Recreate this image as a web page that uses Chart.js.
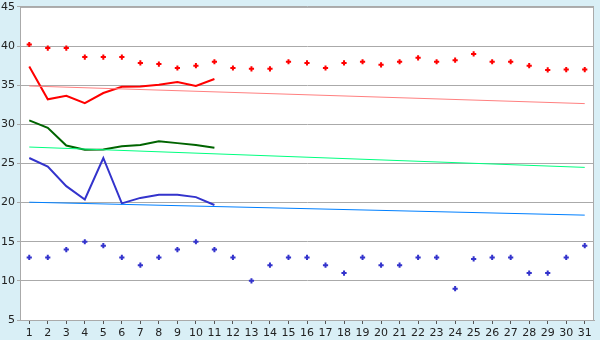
<!DOCTYPE html>
<html lang="">
<head>
    <meta charset="utf-8">
    <title></title>
<script src="https://cdn.jsdelivr.net/npm/chart.js@4.4.0/dist/chart.umd.min.js"></script>
<style>
  body { margin: 0; background: #d9eff6; }
</style>
</head>

<body>
<canvas id="mycanvas" width="600" height="340"></canvas>

<script>
var days = [];
for (var d = 1; d <= 31; d++) days.push(String(d));

// scattered daily points
var highDots = [40.2, 39.75, 39.75, 38.6, 38.6, 38.6, 37.85, 37.7, 37.2, 37.5,
                38.0, 37.2, 37.1, 37.1, 38.0, 37.85, 37.2, 37.85, 38.0, 37.6,
                38.0, 38.5, 38.0, 38.2, 39.0, 38.0, 38.0, 37.5, 36.95, 37.0, 37.0];
var lowDots = [13, 13, 14, 15, 14.5, 13, 12, 13, 14, 15,
               14, 13, 10, 12, 13, 13, 12, 11, 13, 12,
               12, 13, 13, 9, 12.8, 13, 13, 11, 11, 13, 14.5];

// lines for the first 11 days
var redLine = [37.4, 33.2, 33.65, 32.7, 34.0, 34.8, 34.85, 35.05, 35.4, 34.9, 35.8];
var greenLine = [30.5, 29.55, 27.3, 26.75, 26.8, 27.2, 27.35, 27.85, 27.6, 27.35, 27.0];
var blueLine = [25.7, 24.6, 22.1, 20.4, 25.7, 19.9, 20.6, 21.0, 21.0, 20.7, 19.7];

// trend lines, values at day 1 and day 31
var redTrend = [34.9, 32.65];
var greenTrend = [27.1, 24.5];
var blueTrend = [20.05, 18.4];

var yTicks = [5, 10, 15, 20, 25, 30, 35, 40, 45];

function ends(v) {
  return [{x: '1', y: v[0]}, {x: '31', y: v[1]}];
}

var bgPlugin = {
  id: 'bg',
  beforeDraw: function(chart) {
    var c = chart.ctx, a = chart.chartArea;
    c.save();
    c.fillStyle = '#d9eff6';
    c.fillRect(0, 0, chart.width, chart.height);
    c.fillStyle = '#ffffff';
    c.fillRect(a.left, a.top, a.right - a.left, a.bottom - a.top);
    c.restore();
  },
  afterDatasetsDraw: function(chart) {
    var c = chart.ctx, a = chart.chartArea;
    c.save();
    c.strokeStyle = '#aaaaaa';
    c.lineWidth = 1;
    c.strokeRect(a.left + 0.5, a.top + 0.5, a.right - a.left - 1, a.bottom - a.top);
    c.restore();
  }
};

var ctx = document.getElementById('mycanvas');
Chart.defaults.font.family = 'DejaVu Sans';
Chart.defaults.font.size = 11;
Chart.defaults.color = '#222222';

new Chart(ctx, {
  type: 'line',
  data: {
    labels: days,
    datasets: [
      {data: ends(redTrend), borderColor: '#ff8080', borderWidth: 1, pointRadius: 0},
      {data: ends(greenTrend), borderColor: '#00ff80', borderWidth: 1, pointRadius: 0},
      {data: ends(blueTrend), borderColor: '#0080ff', borderWidth: 1, pointRadius: 0},
      {data: redLine, borderColor: '#ff0000', borderWidth: 2, pointRadius: 0},
      {data: greenLine, borderColor: '#006400', borderWidth: 2, pointRadius: 0},
      {data: blueLine, borderColor: '#3333cc', borderWidth: 2, pointRadius: 0},
      {data: highDots, showLine: false, pointStyle: 'cross', pointRadius: 2.6,
       pointBorderWidth: 2, pointBorderColor: '#ff0000', borderColor: '#ff0000'},
      {data: lowDots, showLine: false, pointStyle: 'cross', pointRadius: 2.6,
       pointBorderWidth: 2, pointBorderColor: '#3333cc', borderColor: '#3333cc'}
    ]
  },
  options: {
    responsive: false,
    animation: false,
    layout: {padding: {top: 0, right: 5, left: 0, bottom: 0}},
    plugins: {legend: {display: false}, tooltip: {enabled: false}},
    scales: {
      x: {
        offset: true,
        grid: {drawOnChartArea: false, drawTicks: true, tickLength: 4, color: '#555555'},
        border: {color: '#aaaaaa'},
        ticks: {padding: 3, maxRotation: 0, autoSkip: false},
        afterFit: function(s) { s.height = 20; }
      },
      y: {
        min: 5, max: 45,
        afterBuildTicks: function(s) { s.ticks = yTicks.map(function(v) { return {value: v}; }); },
        grid: {color: '#aaaaaa', tickLength: 3},
        border: {color: '#aaaaaa'},
        ticks: {padding: 2, font: {lineHeight: 0.9}},
        afterFit: function(s) { s.width = 20; }
      }
    }
  },
  plugins: [bgPlugin]
});
</script>
</body>
</html>
